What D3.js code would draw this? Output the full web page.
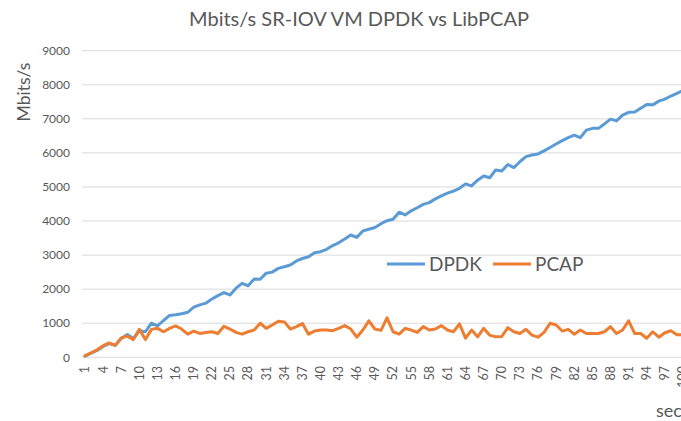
<!DOCTYPE html>
<html>
<head>
<meta charset="utf-8">
<script src="https://cdn.jsdelivr.net/npm/d3@7"></script>
<style>
  body { margin: 0; background: #fff; }
  svg { display: block; font-family: Lato, "Open Sans", sans-serif; }
</style>
</head>
<body>
<div id="chart"></div>
<script>
const seconds = [1,2,3,4,5,6,7,8,9,10,11,12,13,14,15,16,17,18,19,20,
  21,22,23,24,25,26,27,28,29,30,31,32,33,34,35,36,37,38,39,40,
  41,42,43,44,45,46,47,48,49,50,51,52,53,54,55,56,57,58,59,60,
  61,62,63,64,65,66,67,68,69,70,71,72,73,74,75,76,77,78,79,80,
  81,82,83,84,85,86,87,88,89,90,91,92,93,94,95,96,97,98,99,100];

const dpdk = [30,120,200,320,400,350,550,670,550,780,750,1000,920,1080,1230,1250,1280,1320,1470,1540,
  1590,1710,1810,1900,1830,2030,2170,2100,2300,2290,2470,2500,2610,2660,2710,2830,2900,2950,3070,3100,
  3170,3280,3360,3470,3590,3520,3710,3760,3810,3920,4010,4050,4260,4180,4300,4390,4490,4540,4650,4740,
  4820,4880,4960,5090,5030,5200,5320,5270,5500,5470,5660,5570,5740,5890,5940,5970,6060,6160,6260,6360,
  6450,6520,6450,6670,6720,6720,6850,6990,6940,7110,7190,7200,7310,7420,7410,7520,7580,7670,7750,7830];

const pcap = [50,130,220,340,420,350,570,620,520,820,520,820,850,750,850,920,830,680,770,700,
  730,750,700,910,830,730,680,750,800,1000,850,950,1060,1040,830,900,990,680,770,800,
  800,780,850,930,830,590,800,1070,830,790,1160,750,680,850,800,730,900,800,830,930,
  800,750,980,560,800,600,850,650,600,610,870,750,700,820,650,590,730,1000,950,770,
  820,680,800,700,700,700,750,900,700,800,1070,700,700,560,750,590,720,780,660,660];

const xTickLabels = [1,4,7,10,13,16,19,22,25,28,31,34,37,40,43,46,49,52,55,58,61,64,67,70,73,76,79,82,85,88,91,94,97,100];
const yTicks = [0,1000,2000,3000,4000,5000,6000,7000,8000,9000];

const W = 681, H = 421;
const plot = {left: 82, right: 686, top: 50.7, bottom: 357.3};
const textColor = "#595959";

const svg = d3.select("#chart").append("svg")
  .attr("width", W).attr("height", H);

const x = d3.scalePoint()
  .domain(seconds)
  .range([plot.left, plot.right])
  .padding(0.5);

const y = d3.scaleLinear()
  .domain([0, 9000])
  .range([plot.bottom, plot.top]);

// gridlines
svg.append("g")
  .selectAll("line")
  .data(yTicks)
  .join("line")
  .attr("x1", plot.left).attr("x2", plot.right)
  .attr("y1", d => y(d)).attr("y2", d => y(d))
  .attr("stroke", "#d9d9d9")
  .attr("stroke-width", 1);

// y tick labels
svg.append("g")
  .selectAll("text")
  .data(yTicks)
  .join("text")
  .attr("x", 70)
  .attr("y", d => y(d))
  .attr("dy", "0.35em")
  .attr("text-anchor", "end")
  .attr("font-size", 12)
  .attr("fill", textColor)
  .text(d => d);

// x tick labels (rotated)
svg.append("g")
  .selectAll("text")
  .data(xTickLabels)
  .join("text")
  .attr("transform", d => `translate(${x(d)}, 366) rotate(-90)`)
  .attr("dy", "0.35em")
  .attr("text-anchor", "end")
  .attr("font-size", 12.5)
  .attr("fill", textColor)
  .text(d => d);

// series lines
const line = d3.line()
  .x((d, i) => x(seconds[i]))
  .y(d => y(d));

const series = [
  {name: "DPDK", values: dpdk, color: "#5b9bd5"},
  {name: "PCAP", values: pcap, color: "#ed7d31"}
];

svg.append("g")
  .selectAll("path")
  .data(series)
  .join("path")
  .attr("d", d => line(d.values))
  .attr("fill", "none")
  .attr("stroke", d => d.color)
  .attr("stroke-width", 3)
  .attr("stroke-linejoin", "round")
  .attr("stroke-linecap", "round");

// title
svg.append("text")
  .attr("x", 359).attr("y", 26)
  .attr("text-anchor", "middle")
  .attr("font-size", 20)
  .attr("fill", textColor)
  .text("Mbits/s SR-IOV VM DPDK vs LibPCAP");

// y axis title
svg.append("text")
  .attr("transform", "translate(30, 92) rotate(-90)")
  .attr("text-anchor", "middle")
  .attr("font-size", 17.5)
  .attr("fill", textColor)
  .text("Mbits/s");

// x axis title (clipped at right edge, as in the source)
svg.append("text")
  .attr("x", 656).attr("y", 417)
  .attr("font-size", 18)
  .attr("fill", textColor)
  .text("sec");

// legend
const legend = svg.append("g");
const legendPos = [387, 493];
series.forEach((s, i) => {
  const g = legend.append("g").attr("transform", `translate(${legendPos[i]}, 264)`);
  g.append("line")
    .attr("x1", 0).attr("x2", 38)
    .attr("stroke", s.color)
    .attr("stroke-width", 3);
  g.append("text")
    .attr("x", 42).attr("dy", "0.35em")
    .attr("font-size", 19)
    .attr("fill", textColor)
    .text(s.name);
});
</script>
</body>
</html>
